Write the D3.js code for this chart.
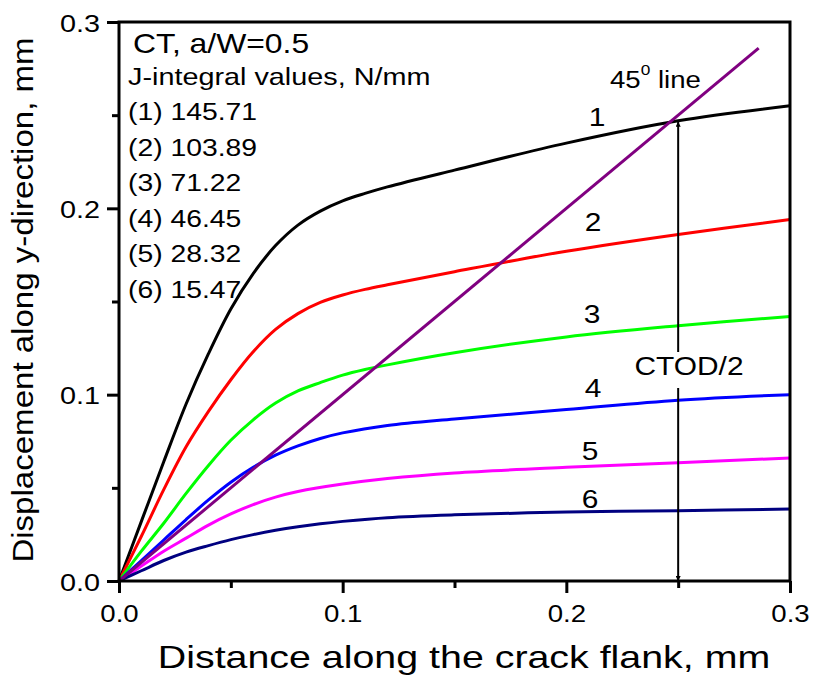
<!DOCTYPE html>
<html>
<head>
<meta charset="utf-8">
<script src="https://cdn.jsdelivr.net/npm/d3@7"></script>
<style>
  body { margin: 0; background: #fff; }
  text { font-family: "Liberation Sans", Arial, sans-serif; fill: #000; }
</style>
</head>
<body>
<div id="chart"></div>
<script>
// crack-flank opening profiles [x (mm), y (mm)]
const curve1 = [[0,0],[0.01,0.032],[0.02,0.064],[0.03,0.095],[0.04,0.122],[0.05,0.146],[0.06,0.165],[0.07,0.18],[0.08,0.191],[0.09,0.1985],[0.1,0.204],[0.11,0.208],[0.12,0.2115],[0.15,0.2205],[0.2,0.235],[0.25,0.247],[0.3,0.255]];
const curve2 = [[0,0],[0.01,0.024],[0.02,0.049],[0.03,0.072],[0.04,0.091],[0.05,0.108],[0.06,0.123],[0.07,0.135],[0.08,0.1435],[0.09,0.1495],[0.1,0.1535],[0.11,0.1565],[0.12,0.159],[0.15,0.166],[0.2,0.177],[0.25,0.186],[0.3,0.194]];
const curve3 = [[0,0],[0.01,0.016],[0.02,0.031],[0.03,0.047],[0.04,0.062],[0.05,0.0755],[0.06,0.0865],[0.07,0.0955],[0.08,0.102],[0.09,0.1065],[0.1,0.1105],[0.11,0.1135],[0.12,0.116],[0.15,0.1225],[0.2,0.131],[0.25,0.137],[0.3,0.142]];
const curve4 = [[0,0],[0.01,0.011],[0.02,0.022],[0.03,0.033],[0.04,0.0435],[0.05,0.053],[0.06,0.061],[0.07,0.0675],[0.08,0.0725],[0.09,0.0765],[0.1,0.0795],[0.12,0.0835],[0.15,0.087],[0.2,0.092],[0.25,0.097],[0.3,0.1]];
const curve5 = [[0,0],[0.01,0.008],[0.02,0.016],[0.03,0.023],[0.04,0.03],[0.05,0.036],[0.06,0.041],[0.07,0.045],[0.08,0.048],[0.1,0.052],[0.12,0.055],[0.15,0.058],[0.2,0.061],[0.25,0.0635],[0.3,0.066]];
const curve6 = [[0,0],[0.01,0.0055],[0.02,0.011],[0.03,0.0155],[0.04,0.019],[0.05,0.0222],[0.06,0.0249],[0.07,0.0272],[0.08,0.0291],[0.09,0.0307],[0.1,0.032],[0.12,0.034],[0.15,0.0355],[0.2,0.037],[0.25,0.0377],[0.3,0.0386]];
const line45 = [[0,0],[0.286,0.286]];

const curveNames = ["1", "2", "3", "4", "5", "6"];
const curveColors = ["#000000", "#ff0000", "#00ff00", "#0000ff", "#ff00ff", "#000080"];
const jValues = ["145.71", "103.89", "71.22", "46.45", "28.32", "15.47"];
const ctodX = 0.25;
const ctodY = 0.2465;
const xTicks = [0, 0.1, 0.2, 0.3];
const yTicks = [0, 0.1, 0.2, 0.3];

const width = 814, height = 679;
const margin = {top: 22, right: 24, bottom: 98, left: 119};

const svg = d3.select("#chart").append("svg")
  .attr("width", width)
  .attr("height", height);

const x = d3.scaleLinear().domain([0, 0.3]).range([margin.left, width - margin.right]);
const y = d3.scaleLinear().domain([0, 0.3]).range([height - margin.bottom, margin.top]);

// text in the figure is wider than Arial, so stretch it a bit
function label(g, str, px, py, size, anchor, sx) {
  return g.append("text")
    .attr("transform", `translate(${px},${py}) scale(${sx || 1.15},1)`)
    .attr("text-anchor", anchor || "start")
    .style("font-size", size + "px")
    .text(str);
}

// curves
const line = d3.line()
  .x(d => x(d[0]))
  .y(d => y(d[1]))
  .curve(d3.curveCatmullRom.alpha(0.5));

const curves = [curve1, curve2, curve3, curve4, curve5, curve6];
svg.append("g").selectAll("path")
  .data(curves)
  .join("path")
  .attr("d", line)
  .attr("fill", "none")
  .attr("stroke", (d, i) => curveColors[i])
  .attr("stroke-width", 3);

// 45 degree line
svg.append("path")
  .attr("d", d3.line().x(d => x(d[0])).y(d => y(d[1]))(line45))
  .attr("fill", "none")
  .attr("stroke", "#800080")
  .attr("stroke-width", 3);

// CTOD/2 arrow
svg.append("defs").append("marker")
  .attr("id", "arr")
  .attr("viewBox", "0 0 10 10")
  .attr("refX", 10).attr("refY", 5)
  .attr("markerWidth", 5).attr("markerHeight", 5)
  .attr("markerUnits", "userSpaceOnUse")
  .attr("orient", "auto")
  .append("path").attr("d", "M0,0L10,5L0,10Z").attr("fill", "#000");

svg.append("line")
  .attr("x1", x(ctodX)).attr("x2", x(ctodX))
  .attr("y1", 352).attr("y2", y(ctodY))
  .attr("stroke", "#000").attr("stroke-width", 2)
  .attr("marker-end", "url(#arr)");
svg.append("line")
  .attr("x1", x(ctodX)).attr("x2", x(ctodX))
  .attr("y1", 388).attr("y2", y(0))
  .attr("stroke", "#000").attr("stroke-width", 2)
  .attr("marker-end", "url(#arr)");
svg.append("g").call(g => label(g, "CTOD/2", 689, 375, 26, "middle"));

// axes
const xAxis = d3.axisBottom(x).tickValues(xTicks).tickSize(12).tickFormat(d3.format(".1f"));
const yAxis = d3.axisLeft(y).tickValues(yTicks).tickSize(12).tickFormat(d3.format(".1f"));

const minorX = d3.axisBottom(x).tickValues(d3.range(0.05, 0.3, 0.1)).tickSize(7).tickFormat("");
const minorY = d3.axisLeft(y).tickValues(d3.range(0.05, 0.3, 0.1)).tickSize(7).tickFormat("");

const gx = svg.append("g").attr("transform", `translate(0,${y(0)})`).call(xAxis);
svg.append("g").attr("transform", `translate(0,${y(0)})`).call(minorX);
const gy = svg.append("g").attr("transform", `translate(${x(0)},0)`).call(yAxis);
svg.append("g").attr("transform", `translate(${x(0)},0)`).call(minorY);

svg.selectAll(".domain").remove();
svg.selectAll(".tick line").attr("stroke", "#000").attr("stroke-width", 3);
gx.selectAll(".tick text").remove();
gy.selectAll(".tick text").remove();

gx.selectAll(".tick").each(function(d) {
  label(d3.select(this), d3.format(".1f")(d), 0, 41, 24, "middle");
});
gy.selectAll(".tick").each(function(d) {
  label(d3.select(this), d3.format(".1f")(d), -19, 9, 24, "end", 1.2);
});

// frame
svg.append("rect")
  .attr("x", x(0)).attr("y", y(0.3))
  .attr("width", x(0.3) - x(0)).attr("height", y(0) - y(0.3))
  .attr("fill", "none").attr("stroke", "#000").attr("stroke-width", 3);

// axis titles
label(svg, "Distance along the crack flank, mm", 464, 668, 32, "middle", 1.23);
svg.append("text")
  .attr("transform", `translate(33,300) rotate(-90) scale(1.14,1)`)
  .attr("text-anchor", "middle")
  .style("font-size", "29px")
  .text("Displacement along y-direction, mm");

// curve labels
const labelPos = [[597, 126], [593, 231], [592, 323], [593, 397], [590, 460], [590, 508]];
curveNames.forEach((n, i) => label(svg, n, labelPos[i][0], labelPos[i][1], 26, "middle"));

// 45 deg line label
const t45 = svg.append("text")
  .attr("transform", "translate(610,88) scale(1.15,1)")
  .style("font-size", "24px");
t45.append("tspan").text("45");
t45.append("tspan").attr("dy", -13).style("font-size", "15px").text("0");
t45.append("tspan").attr("dy", 13).text(" line");

// legend text
label(svg, "CT, a/W=0.5", 133, 53, 27, "start", 1.18);
label(svg, "J-integral values, N/mm", 128, 85, 24, "start", 1.2);
jValues.forEach((v, i) => label(svg, `(${i + 1}) ${v}`, 128, 120 + i * 35.5, 24, "start", 1.18));
</script>
</body>
</html>
